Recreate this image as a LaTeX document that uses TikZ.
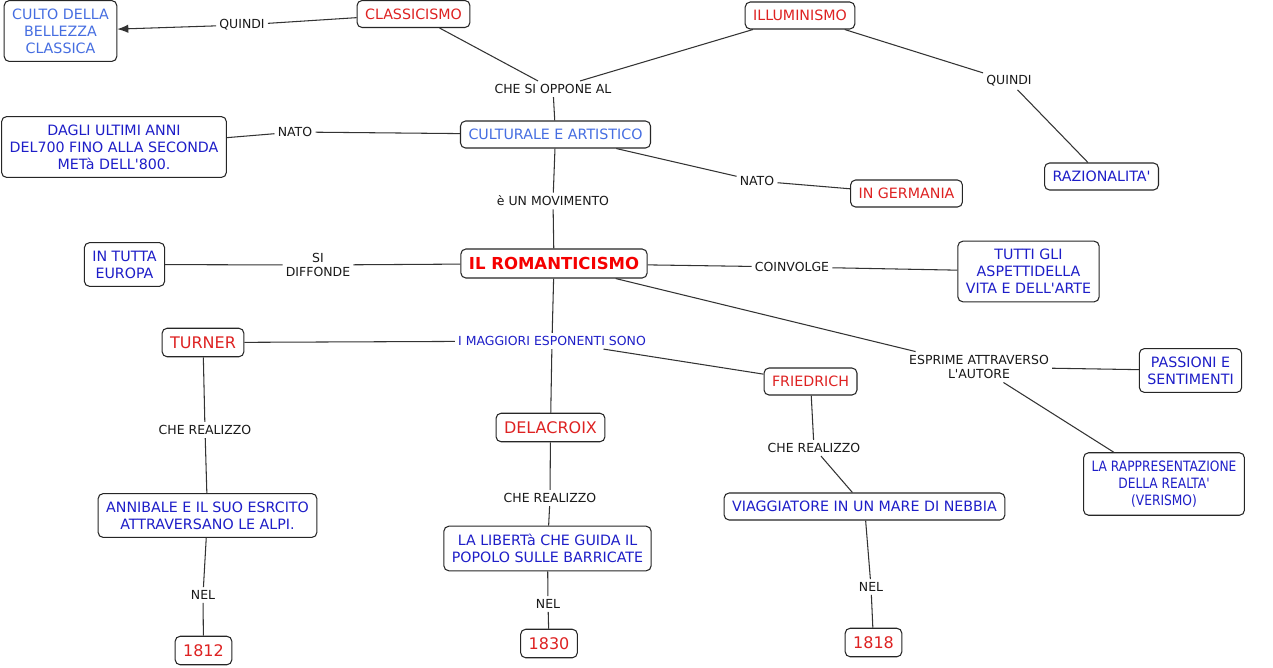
\documentclass[tikz,border=0pt]{standalone}
\usepackage{fontspec}
\setmainfont{DejaVu Sans}[Ligatures=TeXOff]
\newfontfamily\narrowfont{DejaVu Sans}[Ligatures=TeXOff,FakeStretch=0.86]
\usetikzlibrary{arrows.meta}
\definecolor{cred}{RGB}{222,34,34}
\definecolor{cbred}{RGB}{245,0,0}
\definecolor{clblue}{RGB}{70,110,225}
\definecolor{cdblue}{RGB}{30,30,200}
\begin{document}
\begin{tikzpicture}[x=0.02cm,y=-0.02cm,
  box/.style={draw=black!85, line width=0.6pt, rounded corners=0.1cm, fill=white,
    inner xsep=0.16cm, inner ysep=0.16cm, align=center,
    font=\fontsize{8.1}{9.7}\selectfont, minimum height=0.54cm},
  redbox/.style={box, text=cred},
  bigred/.style={box, text=cred, font=\fontsize{9.1}{11}\selectfont, minimum height=0.57cm},
  lbbox/.style={box, text=clblue},
  dbbox/.style={box, text=cdblue},
  lbl/.style={inner sep=0.06cm, align=center, font=\fontsize{7.1}{8.4}\selectfont, text=black!90},
  link/.style={draw=black!80, line width=0.6pt}]
\useasboundingbox[fill=white] (0,0) rectangle (1273,667);

% concept nodes
\node[lbbox] (culto) at (60.5,31) {CULTO DELLA\\BELLEZZA\\CLASSICA};
\node[redbox] (classic) at (413.5,14) {CLASSICISMO};
\node[redbox] (illum) at (800,15.5) {ILLUMINISMO};
\node[lbbox] (cultur) at (555.5,134.5) {CULTURALE E ARTISTICO};
\node[dbbox] (dagli) at (114,147) {DAGLI ULTIMI ANNI\\DEL700 FINO ALLA SECONDA\\METà DELL'800.};
\node[redbox] (germ) at (906.5,193.5) {IN GERMANIA};
\node[dbbox] (raz) at (1101.5,176.5) {RAZIONALITA'};
\node[box, text=cbred, font=\fontsize{9.4}{11}\bfseries, minimum height=0.58cm] (roman) at (554,263.5) {IL ROMANTICISMO};
\node[dbbox] (europa) at (124.5,264.5) {IN TUTTA\\EUROPA};
\node[dbbox] (tutti) at (1028.5,271.5) {TUTTI GLI\\ASPETTIDELLA\\VITA E DELL'ARTE};
\node[bigred] (turner) at (203,342.5) {TURNER};
\node[redbox] (fried) at (810.5,381.5) {FRIEDRICH};
\node[dbbox] (passioni) at (1190.5,370.5) {PASSIONI E\\SENTIMENTI};
\node[bigred] (delac) at (550.5,427.5) {DELACROIX};
\node[dbbox, font=\narrowfont\fontsize{8.1}{9.7}\selectfont] (rappr) at (1164,484) {LA RAPPRESENTAZIONE\\DELLA REALTA'\\(VERISMO)};
\node[dbbox] (annib) at (207.5,515.5) {ANNIBALE E IL SUO ESRCITO\\ATTRAVERSANO LE ALPI.};
\node[dbbox] (viagg) at (864.5,506.5) {VIAGGIATORE IN UN MARE DI NEBBIA};
\node[dbbox] (liberta) at (547.5,548.5) {LA LIBERTà CHE GUIDA IL\\POPOLO SULLE BARRICATE};
\node[bigred] (y1812) at (203.5,650.5) {1812};
\node[bigred] (y1830) at (549,643.5) {1830};
\node[bigred] (y1818) at (873.5,642.5) {1818};

% linking phrases
\node[lbl] (quindia) at (242,25) {QUINDI};
\node[lbl] (oppone) at (553,89) {CHE SI OPPONE AL};
\node[lbl] (quindib) at (1009,81) {QUINDI};
\node[lbl] (natoa) at (295,132) {NATO};
\node[lbl] (natob) at (757,181) {NATO};
\node[lbl] (movim) at (553,201) {è UN MOVIMENTO};
\node[lbl] (diffonde) at (318,265) {SI\\DIFFONDE};
\node[lbl] (coinv) at (792,267) {COINVOLGE};
\node[lbl, text=cdblue] (maggiori) at (552,341) {I MAGGIORI ESPONENTI SONO};
\node[lbl] (esprime) at (979,367) {ESPRIME ATTRAVERSO\\L'AUTORE};
\node[lbl] (realA) at (205,430) {CHE REALIZZO};
\node[lbl] (realB) at (814,448) {CHE REALIZZO};
\node[lbl] (realC) at (550,498) {CHE REALIZZO};
\node[lbl] (nelA) at (203,595) {NEL};
\node[lbl] (nelC) at (548,604) {NEL};
\node[lbl] (nelB) at (871,587) {NEL};

% connectors
\draw[link] (classic) -- (quindia);
\draw[link, -{Latex[length=0.22cm,width=0.17cm]}] (quindia) -- (culto);
\draw[link] (classic) -- (oppone);
\draw[link] (illum) -- (oppone);
\draw[link] (oppone) -- (cultur);
\draw[link] (illum) -- (quindib);
\draw[link] (quindib) -- (raz);
\draw[link] (cultur) -- (natoa);
\draw[link] (natoa) -- (dagli);
\draw[link] (cultur) -- (natob);
\draw[link] (natob) -- (germ);
\draw[link] (cultur) -- (movim);
\draw[link] (movim) -- (roman);
\draw[link] (roman) -- (diffonde);
\draw[link] (diffonde) -- (europa);
\draw[link] (roman) -- (coinv);
\draw[link] (coinv) -- (tutti);
\draw[link] (roman) -- (maggiori);
\draw[link] (maggiori) -- (turner);
\draw[link] (maggiori) -- (delac);
\draw[link] (maggiori) -- (fried);
\draw[link] (roman) -- (esprime);
\draw[link] (esprime) -- (passioni);
\draw[link] (esprime) -- (rappr);
\draw[link] (turner) -- (realA);
\draw[link] (realA) -- (annib);
\draw[link] (annib) -- (nelA);
\draw[link] (nelA) -- (y1812);
\draw[link] (delac) -- (realC);
\draw[link] (realC) -- (liberta);
\draw[link] (liberta) -- (nelC);
\draw[link] (nelC) -- (y1830);
\draw[link] (fried) -- (realB);
\draw[link] (realB) -- (viagg);
\draw[link] (viagg) -- (nelB);
\draw[link] (nelB) -- (y1818);
\end{tikzpicture}
\end{document}
